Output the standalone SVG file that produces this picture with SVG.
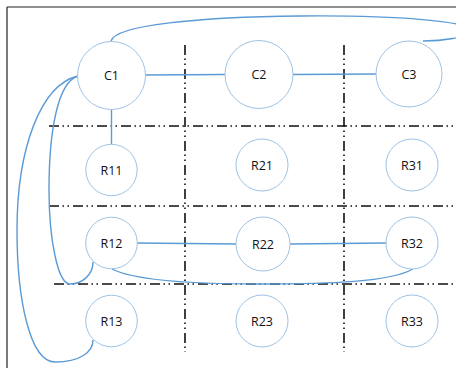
<svg xmlns="http://www.w3.org/2000/svg" width="456" height="368" viewBox="0 0 456 368">
<style>
.node circle{fill:#fff;stroke:#9DC3E6;stroke-width:1}
.node text{font-family:"Open Sans","Liberation Sans",sans-serif;font-size:12.5px;fill:#111;text-anchor:middle}
.grid line{stroke:#111;stroke-width:1.6;stroke-dasharray:10 3.5 1.5 3.5 1.5 4}
#connectors path,#connectors line{fill:none;stroke:#5B9BD5;stroke-width:1.4}
</style>
<rect width="456" height="368" fill="#fff"/>
<g id="frame" stroke="#222" stroke-width="1.2">
<line x1="7" y1="7" x2="456" y2="7"/>
<line x1="7" y1="7" x2="7" y2="368"/>
</g>
<g class="grid" id="grid">
<line x1="185" y1="45" x2="185" y2="352"/>
<line x1="344" y1="45" x2="344" y2="352"/>
<line x1="49" y1="126" x2="456" y2="126"/>
<line x1="49" y1="206" x2="456" y2="206"/>
<line x1="54" y1="284" x2="456" y2="284"/>
</g>
<g id="connectors">
<line x1="145" y1="75" x2="225" y2="74.5"/>
<line x1="293" y1="74.5" x2="376" y2="74"/>
<line x1="111.5" y1="109" x2="111.5" y2="144.5"/>
<line x1="137" y1="243" x2="236" y2="244"/>
<line x1="290" y1="244" x2="386" y2="243"/>
<path d="M111,41 C115,25 200,17 300,16 C400,15 470,22 470,30 C470,38 440,41 423,41"/>
<path d="M78,76 C58,82 49,130 49,190 C49,240 58,284 70,284 C82,284 93,275 93,262"/>
<path d="M78,76 C40,85 17,150 17,230 C17,300 30,362 55,362 C80,362 93,352 93,340"/>
<path d="M112,269 C135,281 200,284 260,284 C330,284 390,282 413,269"/>
</g>
<g class="node" id="C1"><circle cx="111.5" cy="75.5" r="34"/><text x="111.5" y="80">C1</text></g>
<g class="node" id="C2"><circle cx="259" cy="74.5" r="34"/><text x="259" y="79">C2</text></g>
<g class="node" id="C3"><circle cx="409" cy="74" r="33"/><text x="409" y="78.5">C3</text></g>
<g class="node" id="R11"><circle cx="111.5" cy="170" r="25.7"/><text x="111.5" y="174.5">R11</text></g>
<g class="node" id="R21"><circle cx="262" cy="165" r="26"/><text x="262" y="169.5">R21</text></g>
<g class="node" id="R31"><circle cx="412" cy="165" r="26"/><text x="412" y="169.5">R31</text></g>
<g class="node" id="R12"><circle cx="111.5" cy="243" r="25.8"/><text x="111.5" y="247.5">R12</text></g>
<g class="node" id="R22"><circle cx="263" cy="244" r="27"/><text x="263" y="248.5">R22</text></g>
<g class="node" id="R32"><circle cx="412" cy="243" r="26"/><text x="412" y="247.5">R32</text></g>
<g class="node" id="R13"><circle cx="111.5" cy="321" r="25.8"/><text x="111.5" y="325.5">R13</text></g>
<g class="node" id="R23"><circle cx="262" cy="321" r="26"/><text x="262" y="325.5">R23</text></g>
<g class="node" id="R33"><circle cx="412" cy="321" r="26"/><text x="412" y="325.5">R33</text></g>
</svg>
